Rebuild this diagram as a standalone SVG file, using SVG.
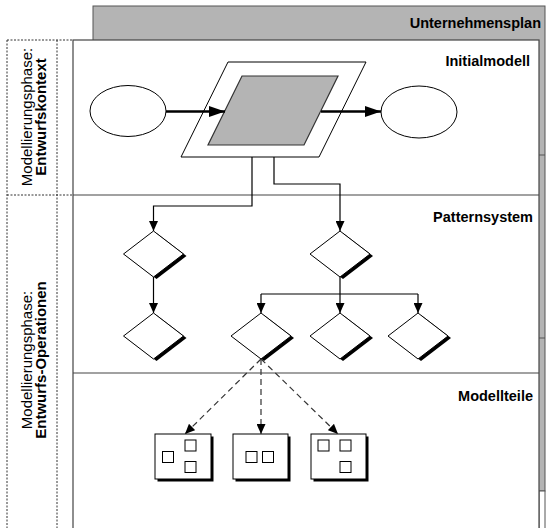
<svg xmlns="http://www.w3.org/2000/svg" width="547" height="528" viewBox="0 0 547 528">
  <style>
    .title { font-family: "Liberation Sans", Arial, sans-serif; font-weight: bold; font-size: 14.5px; fill: #000; }
    .side { font-family: "Liberation Sans", Arial, sans-serif; font-size: 15px; fill: #000; }
    .side-b { font-family: "Liberation Sans", Arial, sans-serif; font-size: 15px; font-weight: bold; fill: #000; }
    .dash { fill: none; stroke: #333; stroke-width: 1; stroke-dasharray: 2 1.5; }
    .conn { fill: none; stroke: #000; stroke-width: 1.2; }
    .thick { fill: none; stroke: #000; stroke-width: 2.6; }
    .dashed { fill: none; stroke: #333; stroke-width: 1.2; stroke-dasharray: 6 4; }
    .diamond { fill: #fff; stroke: #000; stroke-width: 1; }
    .shadow { fill: #000; }
    .box { fill: #fff; stroke: #000; stroke-width: 1; }
    .cell { fill: #fff; stroke: #000; stroke-width: 1; }
  </style>
  <defs>
    <marker id="arr" markerUnits="userSpaceOnUse" markerWidth="10" markerHeight="9" refX="10" refY="4.5" orient="auto">
      <path d="M0,0 L10,4.5 L0,9 z" fill="#000"/>
    </marker>
    <marker id="arrBig" markerUnits="userSpaceOnUse" markerWidth="16" markerHeight="11" refX="16" refY="5.5" orient="auto">
      <path d="M0,0 L16,5.5 L0,11 z" fill="#000"/>
    </marker>
    <!-- diamond with a drop shadow on its lower right side -->
    <g id="dia">
      <path class="shadow" d="M3,-21 L33,2 L3,25 L-27,2 z"/>
      <path class="diamond" d="M0,-23 L30,0 L0,23 L-30,0 z"/>
    </g>
  </defs>

  <!-- background plan sheet -->
  <g id="plan">
    <rect x="93" y="6" width="452" height="485" fill="#b4b4b4" stroke="#555" stroke-width="1"/>
    <rect x="539" y="491" width="6" height="40" fill="#fff" stroke="#555" stroke-width="1"/>
    <line x1="539" y1="155" x2="545" y2="155" stroke="#555"/>
    <line x1="539" y1="338" x2="545" y2="338" stroke="#555"/>
    <text class="title" x="541" y="28" text-anchor="end">Unternehmensplan</text>
  </g>

  <!-- main sheet with three layers -->
  <g id="sheet">
    <rect x="73" y="40" width="466" height="495" fill="#fff" stroke="#444" stroke-width="1.2"/>
    <line x1="73" y1="195" x2="539" y2="195" stroke="#444" stroke-width="1.2"/>
    <line x1="73" y1="373" x2="539" y2="373" stroke="#444" stroke-width="1.2"/>
    <text class="title" x="530" y="66" text-anchor="end">Initialmodell</text>
    <text class="title" x="533" y="222" text-anchor="end">Patternsystem</text>
    <text class="title" x="533" y="401" text-anchor="end">Modellteile</text>
  </g>

  <!-- phase labels -->
  <g id="phases">
    <path class="dash" d="M7,40 H73 M7,195 H73 M7,40 V535 M57,40 V535"/>
    <text class="side" transform="translate(32,117) rotate(-90)" text-anchor="middle">Modellierungsphase:</text>
    <text class="side-b" transform="translate(46,117) rotate(-90)" text-anchor="middle">Entwurfskontext</text>
    <text class="side" transform="translate(32,360) rotate(-90)" text-anchor="middle">Modellierungsphase:</text>
    <text class="side-b" transform="translate(46,360) rotate(-90)" text-anchor="middle">Entwurfs-Operationen</text>
  </g>

  <!-- initial model -->
  <g id="in-ellipse">
    <ellipse cx="128" cy="111" rx="38" ry="25.5" fill="#fff" stroke="#000" stroke-width="1"/>
  </g>
  <g id="model">
    <path d="M228,62 L366,62 L319,157 L181,157 z" fill="#fff" stroke="#000" stroke-width="1"/>
    <path d="M242,76 L338,76 L304,145 L208,145 z" fill="#b4b4b4" stroke="#333" stroke-width="1.2"/>
  </g>
  <g id="out-ellipse">
    <ellipse cx="419" cy="112" rx="38" ry="26" fill="#fff" stroke="#000" stroke-width="1"/>
  </g>

  <!-- pattern system -->
  <g id="p1"><use href="#dia" x="153.5" y="254"/></g>
  <g id="p2"><use href="#dia" x="340" y="254"/></g>
  <g id="p3"><use href="#dia" x="153.5" y="336"/></g>
  <g id="p4"><use href="#dia" x="261" y="336"/></g>
  <g id="p5"><use href="#dia" x="340" y="336"/></g>
  <g id="p6"><use href="#dia" x="418" y="336"/></g>

  <!-- model parts -->
  <g id="part1">
    <rect class="shadow" x="157.5" y="436.5" width="56" height="45"/>
    <rect class="box" x="155" y="434" width="56" height="45"/>
    <rect class="cell" x="162.5" y="451.5" width="11" height="11"/>
    <rect class="cell" x="185" y="440" width="11" height="11"/>
    <rect class="cell" x="185" y="461.5" width="11" height="11"/>
  </g>
  <g id="part2">
    <rect class="shadow" x="235.5" y="436.5" width="55" height="45"/>
    <rect class="box" x="233" y="434" width="55" height="45"/>
    <rect class="cell" x="246" y="451.5" width="11" height="11"/>
    <rect class="cell" x="262.5" y="451.5" width="11" height="11"/>
  </g>
  <g id="part3">
    <rect class="shadow" x="313.5" y="436.5" width="55" height="45"/>
    <rect class="box" x="311" y="434" width="55" height="45"/>
    <rect class="cell" x="318" y="440" width="11" height="11"/>
    <rect class="cell" x="340" y="440" width="11" height="11"/>
    <rect class="cell" x="340" y="461.5" width="11" height="11"/>
  </g>

  <!-- connectors -->
  <g id="connectors">
    <line class="thick" x1="166" y1="111.5" x2="225" y2="111.5" marker-end="url(#arrBig)"/>
    <line class="thick" x1="321" y1="111.5" x2="381" y2="111.5" marker-end="url(#arrBig)"/>
    <path class="conn" d="M252,157 V206 H153.5 V231" marker-end="url(#arr)"/>
    <path class="conn" d="M274,157 V184 H340 V231" marker-end="url(#arr)"/>
    <path class="conn" d="M153.5,277 V313" marker-end="url(#arr)"/>
    <path class="conn" d="M340,277 V313" marker-end="url(#arr)"/>
    <path class="conn" d="M261,294 H418"/>
    <path class="conn" d="M261,294 V313" marker-end="url(#arr)"/>
    <path class="conn" d="M418,294 V313" marker-end="url(#arr)"/>
    <path class="dashed" d="M261,359 L185,434" marker-end="url(#arr)"/>
    <path class="dashed" d="M261,359 V434" marker-end="url(#arr)"/>
    <path class="dashed" d="M261,359 L338,434" marker-end="url(#arr)"/>
  </g>
</svg>
